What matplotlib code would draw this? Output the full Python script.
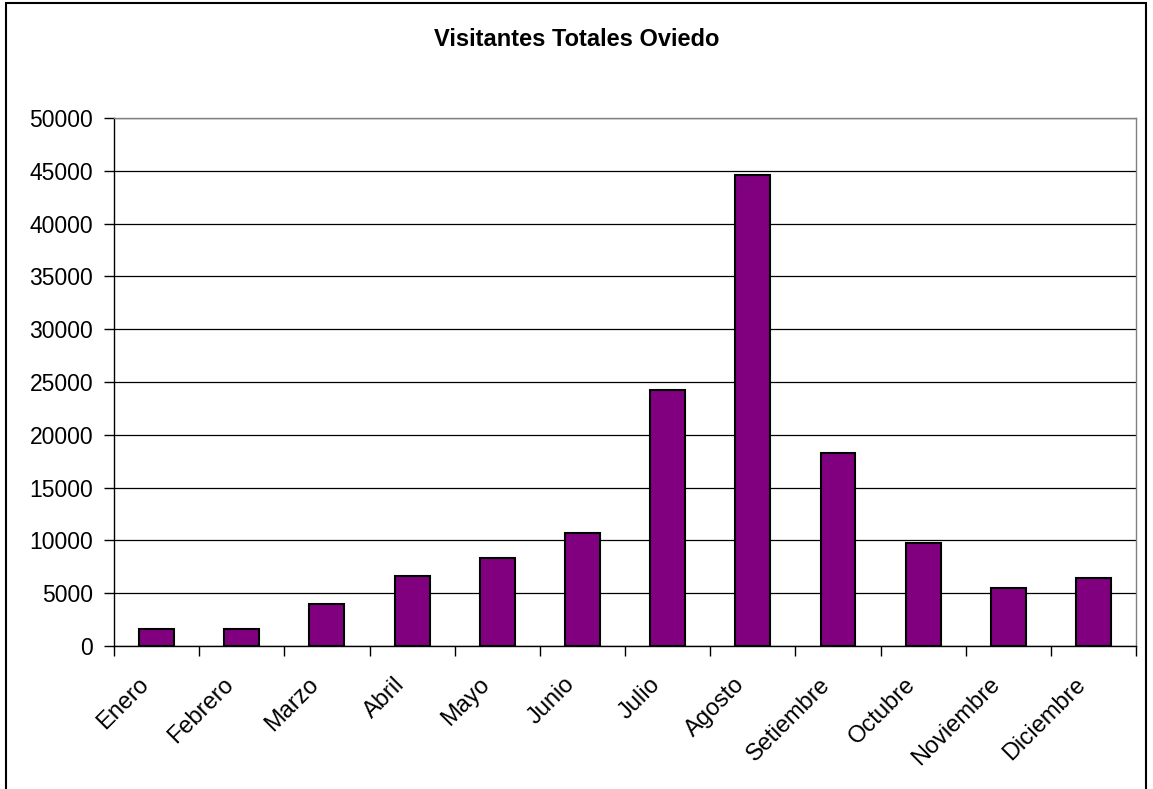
import numpy as np
import matplotlib
matplotlib.use('Agg')
from matplotlib import pyplot as plt
from matplotlib.patches import Rectangle
from matplotlib.transforms import ScaledTranslation

meses = ['Enero', 'Febrero', 'Marzo', 'Abril', 'Mayo', 'Junio', 'Julio',
         'Agosto', 'Setiembre', 'Octubre', 'Noviembre', 'Diciembre']
visitantes = [1640, 1640, 4000, 6650, 8350, 10700, 24200,
              44650, 18300, 9800, 5500, 6450]
y_ticks = list(range(0, 50001, 5000))

plt.rcParams['font.family'] = ['Liberation Sans', 'DejaVu Sans']

fig = plt.figure(figsize=(11.53, 7.89), dpi=100)
ax = fig.add_axes([0.0989, 0.1812, 0.8864, 0.6692])

# borde exterior del grafico
fig.patches.append(Rectangle((6 / 1153, -0.01), 1140 / 1153, 1 - 3 / 789 + 0.01,
                             transform=fig.transFigure, fill=False,
                             edgecolor='black', linewidth=1.5))

x = np.arange(len(meses))
ax.bar(x, visitantes, width=0.41, color='#800080', edgecolor='black',
       linewidth=1.5, zorder=3)

ax.set_xlim(-0.5, len(meses) - 0.5)
ax.set_ylim(0, 50000)
ax.set_yticks(y_ticks)
ax.set_yticklabels([str(v) for v in y_ticks], fontsize=16.5)
ax.yaxis.grid(True, color='black', linewidth=0.9, zorder=0)

ax.set_xticks(x)
ax.set_xticklabels(meses, fontsize=17, rotation=45, ha='right',
                   rotation_mode='anchor')
ax.tick_params(axis='x', which='major', length=0, pad=14)
offset = ScaledTranslation(-19 / 100, -8 / 100, fig.dpi_scale_trans)
for lbl in ax.get_xticklabels():
    lbl.set_transform(lbl.get_transform() + offset)
ax.set_xticks(np.arange(-0.5, len(meses)), minor=True)
ax.tick_params(axis='x', which='minor', length=7, width=1, color='black')
ax.tick_params(axis='y', length=7, width=1, pad=8)

for s in ['top', 'right']:
    ax.spines[s].set_color('#808080')
    ax.spines[s].set_linewidth(1)
for s in ['left', 'bottom']:
    ax.spines[s].set_color('black')
    ax.spines[s].set_linewidth(1)

fig.text(0.5, 1 - 40 / 789, 'Visitantes Totales Oviedo', ha='center',
         va='center', fontsize=17, fontweight='bold')

fig.savefig('out.png', dpi=100)
